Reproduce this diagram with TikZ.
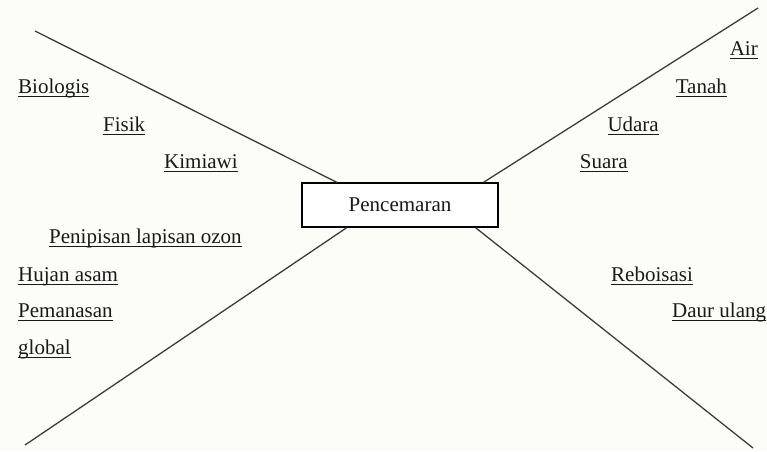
\documentclass[tikz,border=0pt]{standalone}
\usepackage{fontspec}
\setmainfont{Liberation Serif}
\usetikzlibrary{calc}
\definecolor{bgc}{RGB}{252,252,248}
\definecolor{ink}{RGB}{25,25,25}
\definecolor{linec}{RGB}{60,60,60}
\newcommand{\myul}[1]{\setbox0\hbox{#1}\rlap{\rule[-3.6pt]{\wd0}{1.1pt}}\box0}
\tikzset{
  lbl/.style={anchor=base west, inner sep=0pt, text=ink, font=\fontsize{21}{25}\selectfont},
  lblr/.style={anchor=base east, inner sep=0pt, text=ink, font=\fontsize{21}{25}\selectfont},
  ray/.style={draw=linec, line width=1.3pt},
  center/.style={draw=black, line width=1.3pt, fill=white, minimum width=196pt, minimum height=44pt, inner sep=0pt, text=ink, font=\fontsize{21}{25}\selectfont}
}
\begin{document}
\begin{tikzpicture}[x=1pt,y=-1pt]
\fill[bgc] (0,0) rectangle (767,451);
\useasboundingbox (0,0) rectangle (767,451);
\node[center] (pc) at (400,205) {Pencemaran};
\coordinate (tl) at (35,31);
\coordinate (tr) at (758,8);
\coordinate (bl) at (25,445);
\coordinate (br) at (753,448);
\draw[ray] (tl) -- ($(pc.north west)!0.18!(pc.north east)$);
\draw[ray] (tr) -- ($(pc.north west)!0.923!(pc.north east)$);
\draw[ray] (bl) -- ($(pc.south west)!0.23!(pc.south east)$);
\draw[ray] (br) -- ($(pc.south west)!0.883!(pc.south east)$);
% top-left
\node[lbl] (bio) at (18,93) {\myul{Biologis}};
\node[lbl] (fis) at (103,131) {\myul{Fisik}};
\node[lbl] (kim) at (164,168) {\myul{Kimiawi}};
% top-right
\node[lblr] (air) at (758,55) {\myul{Air}};
\node[lblr] (tan) at (727,93) {\myul{Tanah}};
\node[lblr] (uda) at (659,131) {\myul{Udara}};
\node[lblr] (sua) at (628,168) {\myul{Suara}};
% bottom-left
\node[lbl] (pen) at (49,243) {\myul{Penipisan lapisan ozon}};
\node[lbl] (huj) at (18,281) {\myul{Hujan asam}};
\node[lbl] (pem) at (18,317) {\myul{Pemanasan}};
\node[lbl] (glo) at (18,354) {\myul{global}};
% bottom-right
\node[lbl] (reb) at (611,281) {\myul{Reboisasi}};
\node[lbl] (dau) at (672,317) {\myul{Daur ulang}};
\end{tikzpicture}
\end{document}
